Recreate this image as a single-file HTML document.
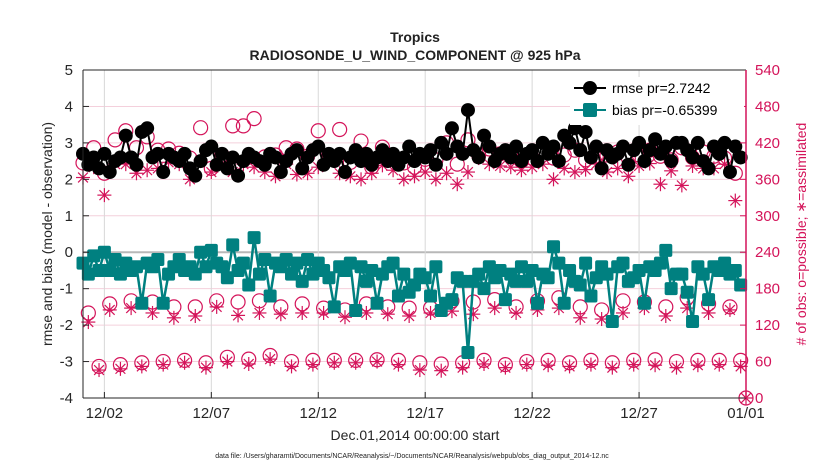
<!DOCTYPE html>
<html><head><meta charset="utf-8"><style>
body{margin:0;background:#fff;}
svg{display:block;font-family:"Liberation Sans",sans-serif;}
</style></head><body>
<svg id="chart" width="830" height="470" viewBox="0 0 830 470" xmlns="http://www.w3.org/2000/svg">
<rect width="830" height="470" fill="#fff"/>
<g id="grid"></g>
<g id="series"></g>
<g id="axes"></g>
<text x="415" y="42" text-anchor="middle" font-size="14" font-weight="bold" fill="#222">Tropics</text>
<text x="415" y="60" text-anchor="middle" font-size="14" font-weight="bold" fill="#222">RADIOSONDE_U_WIND_COMPONENT @ 925 hPa</text>
<text transform="translate(52,234) rotate(-90)" text-anchor="middle" font-size="14" fill="#262626">rmse and bias (model - observation)</text>
<text transform="translate(806,234) rotate(-90)" text-anchor="middle" font-size="14" fill="#d4145a"># of obs: o=possible; ∗=assimilated</text>
<text x="415" y="440" text-anchor="middle" font-size="14" fill="#262626">Dec.01,2014 00:00:00 start</text>
<text x="412" y="458" text-anchor="middle" font-size="7" fill="#222">data file: /Users/gharamti/Documents/NCAR/Reanalysis/~/Documents/NCAR/Reanalysis/webpub/obs_diag_output_2014-12.nc</text>
<g id="legend">
<rect x="570" y="77" width="174" height="48" fill="#fff"/>
<line x1="574" y1="88" x2="606" y2="88" stroke="#000" stroke-width="2"/>
<circle cx="590" cy="88" r="7" fill="#000"/>
<text x="612" y="93" font-size="14" fill="#000">rmse pr=2.7242</text>
<line x1="574" y1="110" x2="606" y2="110" stroke="#008080" stroke-width="2"/>
<rect x="583" y="103" width="14" height="14" rx="2" fill="#008080"/>
<text x="612" y="115" font-size="14" fill="#000">bias pr=-0.65399</text>
</g>
</svg>
<script>
const rmse=[2.7,2.4,2.6,2.3, 2.7,2.2,2.5,2.6, 3.2,2.6,2.4,3.3, 3.4,2.6,2.7,2.2, 2.7,2.6,2.5,2.7, 2.3,2.1,2.5,2.8, 2.9,2.4,2.7,2.3, 2.6,2.1,2.5,2.7, 2.6,2.5,2.4,2.7, 2.6,2.2,2.5,2.7, 2.8,2.3,2.6,2.8, 2.9,2.4,2.7,2.5, 2.7,2.2,2.6,2.8, 2.5,2.7,2.4,2.6, 2.8,2.5,2.7,2.4, 2.6,2.9,2.5,2.7, 2.6,2.8,2.4,3.0, 2.7,3.4,2.9,2.7, 3.9,2.8,2.6,3.2, 2.9,2.5,2.7,2.8, 2.6,2.9,2.5,2.7, 2.8,2.5,3.0,2.7, 2.9,2.5,3.2,3.0, 3.4,2.8,3.3,2.6, 2.9,2.3,2.8,2.6, 2.7,2.9,2.4,2.8, 3.0,2.5,2.8,3.1, 2.7,2.9,2.5,3.0, 3.0,2.8,2.6,3.0, 2.5,2.3,2.9,2.7, 3.0,2.2,2.9,2.6];
const bias=[-0.3,-0.6,-0.1,-0.5, 0.0,-0.5,-0.2,-0.6, -0.3,-0.5,-0.4,-1.4, -0.3,-0.4,-0.2,-1.4, -0.6,-0.4,-0.2,-0.5, -0.4,-0.6,0.0,-0.4, 0.05,-0.3,-0.4,-0.7, 0.2,-0.5,-0.3,-0.9, 0.4,-0.6,-0.2,-1.2, -0.3,-0.4,-0.2,-0.6, -0.3,-0.8,-0.2,-0.6, -0.3,-0.5,-0.7,-1.5, -0.4,-0.5,-0.3,-1.6, -0.4,-0.8,-0.5,-1.4, -0.6,-0.4,-0.3,-1.2, -0.6,-1.1,-0.9,-0.6, -0.7,-1.2,-0.4,-1.6, -1.4,-1.3,-0.7,-0.8, -2.75,-0.8,-0.6,-1.0, -0.4,-0.7,-0.5,-1.3, -0.6,-0.8,-0.4,-0.8, -0.5,-1.4,-0.6,-0.7, 0.15,-0.3,-1.4,-0.5, -0.8,-0.9,-0.3,-1.2, -0.7,-0.4,-0.6,-1.9, -0.4,-0.3,-0.8,-0.7, -0.5,-1.4,-0.4,-0.5, -0.3,0.05,-1.0,-0.6, -0.6,-1.1,-1.9,-0.4, -0.6,-1.3,-0.4,-0.5, -0.3,-0.6,-0.5,-0.9];
const possible=[387,140,412,52, 370,155,425,55, 440,160,412,58, 430,158,408,60, 410,150,403,62, 395,150,445,58, 378,160,400,67, 448,158,448,64, 460,160,397,70, 400,150,412,60, 410,155,398,62, 440,148,400,62, 442,145,388,62, 423,155,380,63, 413,150,395,62, 387,148,380,58, 393,148,392,56, 420,160,385,58, 425,158,400,62, 410,162,402,55, 405,150,390,60, 395,160,405,62, 395,165,400,58, 408,150,392,62, 398,145,400,58, 405,160,395,62, 400,158,408,63, 398,150,392,60, 412,165,396,62, 405,155,398,62, 395,150,370,62, 0];
const assimilated=[363,125,380,46, 334,145,385,48, 385,148,370,52, 375,140,378,55, 388,132,385,58, 360,135,392,50, 372,150,383,60, 372,136,385,56, 380,140,372,64, 365,138,385,52, 368,140,370,55, 380,140,390,58, 370,133,365,58, 360,140,370,60, 383,138,375,55, 360,135,365,46, 372,140,360,45, 370,143,352,50, 372,138,395,56, 385,148,382,50, 380,140,375,55, 380,145,385,54, 360,148,378,52, 372,132,376,55, 385,130,372,50, 378,140,365,55, 382,148,386,54, 352,135,374,50, 350,148,382,54, 378,140,378,55, 385,145,325,52, 0];
const leftTicks=[5,4,3,2,1,0,-1,-2,-3,-4];
const rightTicks=[540,480,420,360,300,240,180,120,60,0];
const xTickLabels=["12/02","12/07","12/12","12/17","12/22","12/27","01/01"];
const xTickDays=[1,6,11,16,21,26,31];

const L=83,R=746,T=70,B=398,PINK="#d4145a",TEAL="#008080";
const xs=t=>L+t*(R-L)/124;
const xd=d=>L+d*(R-L)/31;
const yl=v=>B-(v+4)*(B-T)/9;
const yr=n=>B-n*(B-T)/540;
const NS="http://www.w3.org/2000/svg";
function mk(tag,attrs,parent){const e=document.createElementNS(NS,tag);for(const k in attrs)e.setAttribute(k,attrs[k]);parent.appendChild(e);return e;}
const grid=document.getElementById('grid'),ser=document.getElementById('series'),ax=document.getElementById('axes');

leftTicks.forEach(v=>{
  const g=mk('line',{x1:L,x2:R,y1:yl(v),y2:yl(v),stroke:v===0?'#b8b8b8':'#f4d0dc','stroke-width':v===0?2:1},grid);
  
  
  const t=mk('text',{x:L-10,y:yl(v)+5,'text-anchor':'end','font-size':15,fill:'#262626'},ax);
  t.textContent=v;
  
  
  mk('line',{x1:L,x2:L+6,y1:yl(v),y2:yl(v),stroke:'#262626'},ax);
});
rightTicks.forEach(n=>{
  const t=mk('text',{x:R+9,y:yr(n)+5,'font-size':15,fill:PINK},ax);
  t.textContent=n;
  
  
  mk('line',{x1:R-6,x2:R,y1:yr(n),y2:yr(n),stroke:PINK},ax);
});
xTickDays.forEach((d,i)=>{
  const x=xd(d);
  const g=mk('line',{x1:x,x2:x,y1:T,y2:B,stroke:'#d8d8d8'},grid);
  
  
  mk('line',{x1:x,x2:x,y1:B,y2:B-6,stroke:'#262626'},ax);
  const t=mk('text',{x:x,y:B+20,'text-anchor':'middle','font-size':15,fill:'#262626'},ax);
  t.textContent=xTickLabels[i];
  
  
});
mk('line',{x1:L,x2:R,y1:T,y2:T,stroke:'#262626'},ax);
mk('line',{x1:L,x2:R,y1:B,y2:B,stroke:'#262626'},ax);
mk('line',{x1:L,x2:L,y1:T,y2:B,stroke:'#262626'},ax);
mk('line',{x1:R,x2:R,y1:T,y2:B,stroke:PINK,'stroke-width':1.5},ax);

possible.forEach((n,t)=>{
  const c=mk('circle',{cx:xs(t),cy:yr(n),r:7,fill:'none',stroke:PINK,'stroke-width':1.2},ser);
  
  
});
assimilated.forEach((n,t)=>{
  const x=xs(t),y=yr(n),s=7;
  const g=mk('g',{stroke:PINK,'stroke-width':1.2},ser);
  
  
  mk('line',{x1:x-s,x2:x+s,y1:y,y2:y},g);
  mk('line',{x1:x,x2:x,y1:y-s,y2:y+s},g);
  mk('line',{x1:x-s*0.7,x2:x+s*0.7,y1:y-s*0.7,y2:y+s*0.7},g);
  mk('line',{x1:x-s*0.7,x2:x+s*0.7,y1:y+s*0.7,y2:y-s*0.7},g);
});
const bl=mk('polyline',{points:bias.map((v,t)=>xs(t)+','+yl(v)).join(' '),fill:'none',stroke:TEAL,'stroke-width':2.5},ser);


bias.forEach((v,t)=>{
  const r=mk('rect',{x:xs(t)-6.5,y:yl(v)-6.5,width:13,height:13,rx:2,fill:TEAL},ser);
  
  
});
const rl=mk('polyline',{points:rmse.map((v,t)=>xs(t)+','+yl(v)).join(' '),fill:'none',stroke:'#000','stroke-width':2},ser);


rmse.forEach((v,t)=>{
  const c=mk('circle',{cx:xs(t),cy:yl(v),r:7,fill:'#000'},ser);
  
  
});
</script>
</body></html>
